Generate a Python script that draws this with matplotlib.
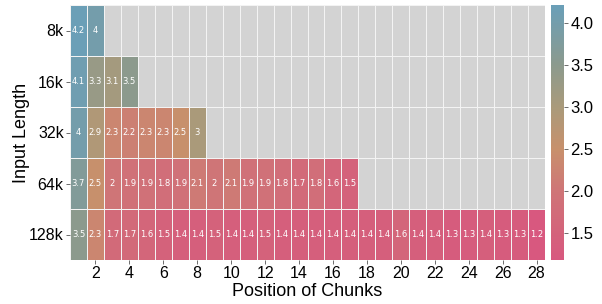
import numpy as np
import matplotlib
matplotlib.use("Agg")
import matplotlib.pyplot as plt
from matplotlib.colors import LinearSegmentedColormap, Normalize

rows = ["8k", "16k", "32k", "64k", "128k"]
r8k = [4.2, 4.0]
r16k = [4.1, 3.3, 3.1, 3.5]
r32k = [4.0, 2.9, 2.3, 2.2, 2.3, 2.3, 2.5, 3.0]
r64k = [3.7, 2.5, 2.0, 1.9, 1.9, 1.8, 1.9, 2.1, 2.0, 2.1, 1.9, 1.9, 1.8, 1.7, 1.8, 1.6, 1.5]
r128k = [3.5, 2.3, 1.7, 1.7, 1.6, 1.5, 1.4, 1.4, 1.5, 1.4, 1.4, 1.5, 1.4, 1.4, 1.4,
         1.4, 1.4, 1.4, 1.4, 1.6, 1.4, 1.4, 1.3, 1.3, 1.4, 1.3, 1.3, 1.2]
xtick_labels = [str(i) for i in range(2, 29, 2)]

series = [r8k, r16k, r32k, r64k, r128k]
ncol = max(len(s) for s in series)
data = np.full((len(series), ncol), np.nan)
for i, s in enumerate(series):
    data[i, :len(s)] = s

plt.rcParams['font.family'] = ['Liberation Sans', 'DejaVu Sans']

cmap = LinearSegmentedColormap.from_list("c", [
    (0.0, "#d8587f"),
    (0.10, "#d4627b"),
    (0.27, "#cf7577"),
    (0.43, "#c8906c"),
    (0.60, "#aa9a7a"),
    (0.77, "#8b9a8e"),
    (1.0, "#6a9fb8"),
])
vmin, vmax = 1.18, 4.22
norm = Normalize(vmin=vmin, vmax=vmax)

fig = plt.figure(figsize=(6.02, 3.04), dpi=100)
ax = fig.add_axes([70/602, 1 - 260/304, 475/602, 255/304])
cax = fig.add_axes([551/602, 1 - 260/304, 13/602, 255/304])

X = np.arange(ncol + 1)
Y = np.arange(len(rows) + 1)
grey = np.where(np.isnan(data), 1.0, np.nan)
ax.pcolormesh(X, Y, np.ma.masked_invalid(grey), cmap=LinearSegmentedColormap.from_list("g", ["#d3d3d3", "#d3d3d3"]),
              edgecolors="white", linewidth=0.6)
mesh = ax.pcolormesh(X, Y, np.ma.masked_invalid(data), cmap=cmap, norm=norm,
                     edgecolors="#f3f3f3", linewidth=0.6)
ax.set_xlim(0, ncol)
ax.set_ylim(len(rows), 0)

for i in range(data.shape[0]):
    for j in range(data.shape[1]):
        v = data[i, j]
        if not np.isnan(v):
            ax.text(j + 0.5, i + 0.5, f"{v:g}", ha="center", va="center",
                    color="white", fontsize=6, family="DejaVu Sans")

ax.set_yticks(np.arange(len(rows)) + 0.5)
ax.set_yticklabels(rows, fontsize=11.5)
ax.set_xticks(np.arange(1, ncol, 2) + 0.5)
ax.set_xticklabels(xtick_labels, fontsize=11.5)
ax.tick_params(axis="both", length=3, width=0.6, color="#555555", pad=1.5)
for sp in ax.spines.values():
    sp.set_visible(False)
ax.set_xlabel("Position of Chunks", fontsize=13, labelpad=1)
ax.set_ylabel("Input Length", fontsize=13, labelpad=-1)

cb = fig.colorbar(mesh, cax=cax)
cb.set_ticks([1.5, 2.0, 2.5, 3.0, 3.5, 4.0])
cb.ax.tick_params(labelsize=12, length=3, width=0.6, color="#555555", pad=1.5)
cb.outline.set_visible(False)

fig.savefig("out.png", dpi=100)
